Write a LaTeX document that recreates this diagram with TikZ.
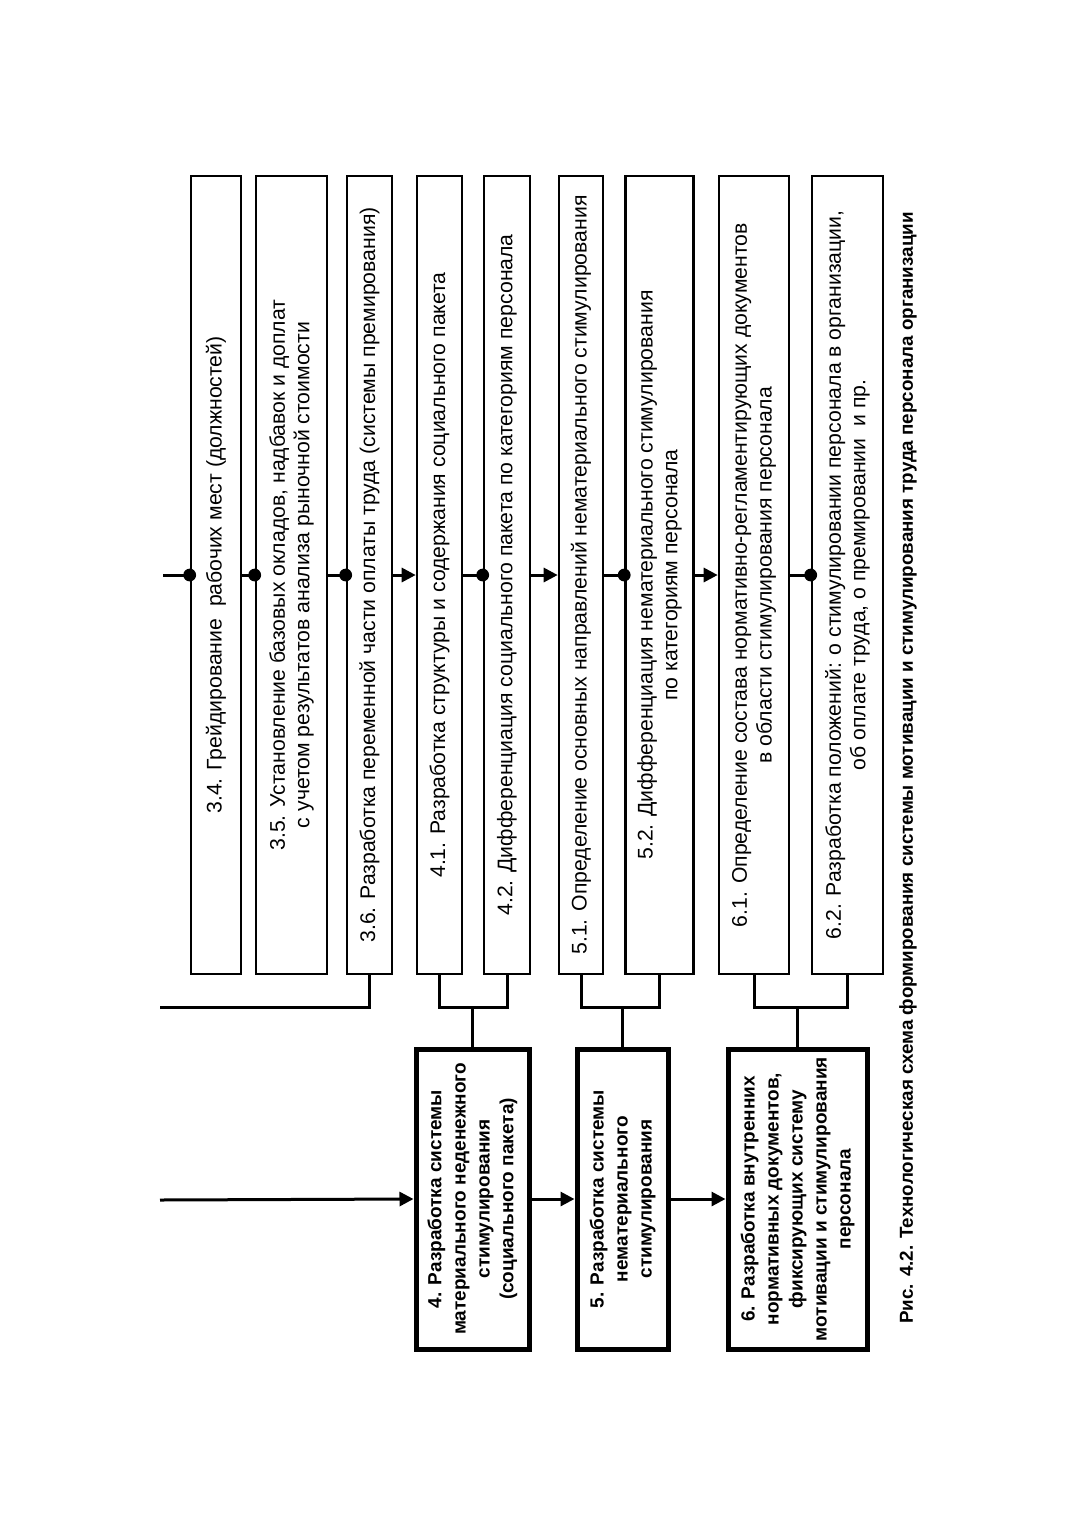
\documentclass[tikz,border=0pt]{standalone}
\usepackage{fontspec}
\setmainfont{Liberation Sans}
\usetikzlibrary{arrows.meta}
\begin{document}
\begin{tikzpicture}[x=0.5pt,y=-0.5pt,
  subbox/.style={draw, line width=1.3pt, rotate=90, inner sep=0pt,
    minimum width=399pt, minimum height=#1, align=center,
    font=\fontsize{10.6}{12.3}\selectfont},
  mainbox/.style={draw, line width=2.5pt, rotate=90, inner sep=0pt,
    minimum width=150pt, minimum height=#1, align=center,
    font=\bfseries\fontsize{9.5}{12}\selectfont},
  conn/.style={line width=1.5pt},
  arr/.style={conn, -{Triangle[length=7pt,width=7pt]}},
  dotc/.style={fill=black}
]
\useasboundingbox (0,0) rectangle (1078,1528);
\fill[white] (0,0) rectangle (1078,1528);

% tall sub-step boxes
\node[subbox=25pt]   (b34) at (216,575)   {3.4. Грейдирование\ \ рабочих мест (должностей)};
\node[subbox=35.5pt] (b35) at (291.5,575) {3.5. Установление базовых окладов, надбавок и доплат\\с учетом результатов анализа рыночной стоимости};
\node[subbox=22.5pt] (b36) at (369.5,575) {3.6. Разработка переменной части оплаты труда (системы премирования)};
\node[subbox=22.5pt] (b41) at (439.5,575) {4.1. Разработка структуры и содержания социального пакета};
\node[subbox=23pt]   (b42) at (507,575)   {4.2. Дифференциация социального пакета по категориям персонала};
\node[subbox=22pt]   (b51) at (581,575)   {5.1. Определение основных направлений нематериального стимулирования};
\node[subbox=34pt]   (b52) at (659.5,575) {5.2. Дифференциация нематериального стимулирования\\по категориям персонала};
\node[subbox=35pt]   (b61) at (754,575)   {6.1. Определение состава нормативно-регламентирующих документов\\в области стимулирования персонала};
\node[subbox=35.5pt] (b62) at (847.5,575) {6.2. Разработка положений: о стимулировании персонала в организации,\\об оплате труда, о премировании\ \ и пр.};

% main step boxes
\node[mainbox=56.5pt] (b4) at (472.5,1199) {4. Разработка системы\\материального неденежного\\стимулирования\\(социального пакета)};
\node[mainbox=45.5pt] (b5) at (622.5,1199) {5. Разработка системы\\нематериального\\стимулирования};
\node[mainbox=69.5pt] (b6) at (797.5,1199) {6. Разработка внутренних\\нормативных документов,\\фиксирующих систему\\мотивации и стимулирования\\персонала};

% caption
\node[rotate=90, inner sep=0pt, font=\bfseries\fontsize{9.4}{11}\selectfont] (cap) at (908,768)
  {Рис. 4.2. Технологическая схема формирования системы мотивации и стимулирования труда персонала организации};

% free ends
\coordinate (inTop) at (163,575);
\coordinate (inMid) at (160,1007);
\coordinate (inBot) at (160,1200);
\coordinate (br) at (0,1007);

% top spine
\draw[conn] (inTop) -- (b34.north);
\draw[conn] (b34.south) -- (b35.north);
\draw[conn] (b35.south) -- (b36.north);
\draw[arr]  (b36.south) -- (b41.north);
\draw[conn] (b41.south) -- (b42.north);
\draw[arr]  (b42.south) -- (b51.north);
\draw[conn] (b51.south) -- (b52.north);
\draw[arr]  (b52.south) -- (b61.north);
\draw[conn] (b61.south) -- (b62.north);
\foreach \n in {b34,b35,b36,b42,b52,b62} \fill[dotc] (\n.north) circle (3.2pt);

% brackets under the sub-step boxes
\draw[conn] (b36.west) |- (inMid);
\draw[conn] (b41.west) -- (b41.west |- br) -- (b42.west |- br) -- (b42.west);
\draw[conn] (b4.east) -- (b4.east |- br);
\draw[conn] (b51.west) -- (b51.west |- br) -- (b52.west |- br) -- (b52.west);
\draw[conn] (b5.east) -- (b5.east |- br);
\draw[conn] (b61.west) -- (b61.west |- br) -- (b62.west |- br) -- (b62.west);
\draw[conn] (b6.east) -- (b6.east |- br);

% main flow
\draw[arr] (inBot) -- (b4.north);
\draw[arr] (b4.south) -- (b5.north);
\draw[arr] (b5.south) -- (b6.north);
\end{tikzpicture}
\end{document}
